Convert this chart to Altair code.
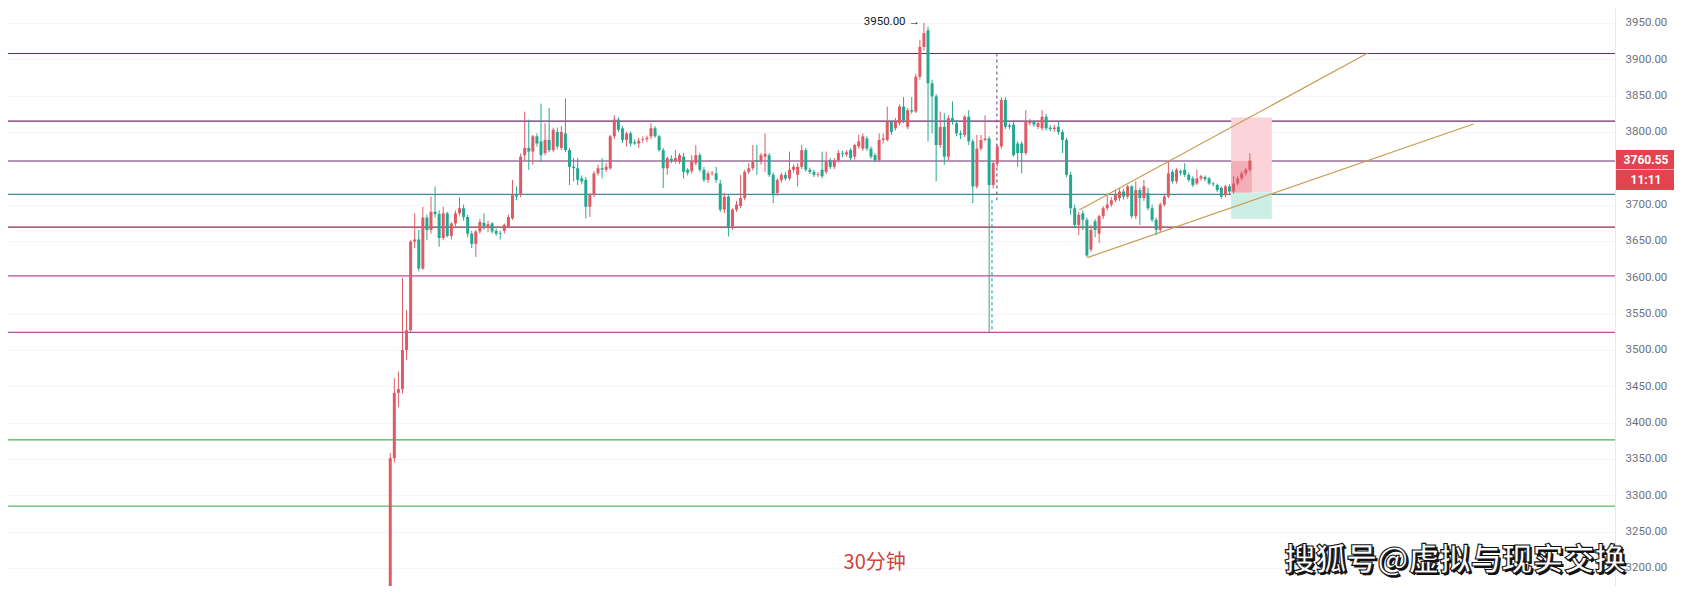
import altair as alt
import pandas as pd

# ---- candle data (30-minute bars) ----
opens = [
    3150, 3351, 3441, 3446, 3500, 3527, 3649, 3652, 3612, 3682,
    3665, 3690, 3687, 3654, 3688, 3657, 3674, 3688, 3695, 3683,
    3660, 3646, 3663, 3675, 3668, 3674, 3664, 3661, 3664, 3670,
    3681, 3713, 3713, 3768, 3778, 3773, 3794, 3787, 3771, 3789,
    3775, 3800, 3778, 3798, 3775, 3752, 3750, 3736, 3734, 3697,
    3713, 3743, 3750, 3748, 3750, 3794, 3817, 3805, 3789, 3798,
    3786, 3784, 3789, 3790, 3794, 3805, 3794, 3775, 3750, 3763,
    3760, 3759, 3766, 3748, 3746, 3757, 3768, 3748, 3734, 3743,
    3743, 3729, 3693, 3711, 3670, 3693, 3698, 3709, 3745, 3750,
    3761, 3759, 3766, 3768, 3741, 3716, 3734, 3741, 3736, 3748,
    3741, 3752, 3775, 3748, 3745, 3741, 3748, 3745, 3761, 3752,
    3761, 3771, 3769, 3775, 3766, 3780, 3777, 3791, 3777, 3768,
    3761, 3789, 3789, 3814, 3805, 3812, 3835, 3807, 3830, 3828,
    3876, 3917, 3940, 3867, 3849, 3782, 3807, 3766, 3819, 3812,
    3798, 3796, 3821, 3787, 3725, 3777, 3789, 3791, 3727, 3757,
    3780, 3844, 3809, 3810, 3784, 3784, 3771, 3812, 3814, 3807,
    3805, 3821, 3806, 3804, 3807, 3800, 3789, 3741, 3695, 3672,
    3688, 3679, 3638, 3677, 3660, 3684, 3695, 3700, 3706, 3709,
    3718, 3711, 3725, 3684, 3720, 3709, 3716, 3695, 3679, 3665,
    3700, 3711, 3745, 3732, 3746, 3748, 3741, 3736, 3729, 3736,
    3738, 3736, 3729, 3727, 3723, 3713, 3725, 3718, 3729, 3736,
    3743, 3748,
]
highs = [
    3358, 3461, 3470, 3599, 3555, 3651, 3688, 3665, 3697, 3686,
    3711, 3725, 3692, 3697, 3690, 3676, 3692, 3710, 3700, 3686,
    3664, 3665, 3680, 3688, 3678, 3676, 3667, 3664, 3674, 3686,
    3734, 3725, 3770, 3828, 3817, 3796, 3798, 3839, 3812, 3833,
    3806, 3806, 3808, 3846, 3778, 3764, 3764, 3740, 3738, 3716,
    3746, 3755, 3764, 3757, 3796, 3823, 3820, 3808, 3800, 3801,
    3790, 3792, 3794, 3795, 3812, 3808, 3796, 3778, 3766, 3768,
    3775, 3771, 3771, 3750, 3768, 3782, 3771, 3752, 3746, 3746,
    3752, 3734, 3716, 3713, 3695, 3705, 3741, 3748, 3757, 3782,
    3782, 3771, 3798, 3771, 3744, 3736, 3744, 3745, 3773, 3755,
    3757, 3782, 3778, 3751, 3748, 3745, 3773, 3773, 3764, 3764,
    3775, 3774, 3775, 3778, 3784, 3796, 3798, 3794, 3780, 3771,
    3798, 3798, 3835, 3816, 3819, 3838, 3848, 3833, 3848, 3880,
    3927, 3950, 3945, 3872, 3852, 3828, 3826, 3823, 3842, 3816,
    3802, 3823, 3830, 3790, 3796, 3796, 3823, 3794, 3760, 3783,
    3848, 3848, 3812, 3816, 3787, 3787, 3830, 3818, 3816, 3816,
    3830, 3825, 3809, 3810, 3814, 3803, 3792, 3745, 3700, 3690,
    3692, 3682, 3672, 3680, 3686, 3698, 3713, 3710, 3720, 3722,
    3722, 3727, 3727, 3732, 3723, 3734, 3723, 3700, 3682, 3703,
    3714, 3759, 3748, 3750, 3748, 3757, 3744, 3739, 3748, 3741,
    3740, 3738, 3731, 3729, 3725, 3727, 3728, 3739, 3739, 3746,
    3751, 3771,
]
lows = [
    3140, 3345, 3421, 3440, 3486, 3525, 3640, 3608, 3610, 3651,
    3660, 3682, 3642, 3651, 3655, 3652, 3670, 3685, 3678, 3655,
    3640, 3628, 3660, 3665, 3662, 3660, 3657, 3652, 3660, 3668,
    3679, 3706, 3710, 3761, 3748, 3755, 3780, 3759, 3768, 3772,
    3772, 3776, 3775, 3772, 3727, 3732, 3727, 3728, 3681, 3683,
    3710, 3740, 3736, 3745, 3748, 3790, 3800, 3785, 3780, 3780,
    3782, 3778, 3785, 3786, 3790, 3792, 3773, 3723, 3741, 3757,
    3757, 3756, 3736, 3740, 3743, 3754, 3745, 3731, 3730, 3740,
    3730, 3690, 3688, 3656, 3665, 3690, 3695, 3706, 3742, 3747,
    3741, 3755, 3745, 3738, 3702, 3712, 3730, 3733, 3733, 3744,
    3725, 3749, 3745, 3742, 3738, 3738, 3736, 3742, 3749, 3749,
    3758, 3765, 3766, 3760, 3762, 3777, 3774, 3774, 3763, 3758,
    3759, 3784, 3787, 3796, 3802, 3809, 3812, 3804, 3825, 3826,
    3872, 3912, 3787, 3798, 3732, 3778, 3755, 3761, 3810, 3794,
    3790, 3793, 3782, 3702, 3722, 3774, 3787, 3523, 3722, 3752,
    3777, 3804, 3804, 3766, 3752, 3743, 3768, 3809, 3807, 3804,
    3802, 3802, 3801, 3800, 3796, 3771, 3738, 3686, 3668, 3658,
    3665, 3628, 3635, 3655, 3647, 3680, 3692, 3697, 3703, 3705,
    3707, 3708, 3681, 3680, 3672, 3705, 3692, 3676, 3658, 3662,
    3697, 3709, 3729, 3729, 3740, 3738, 3731, 3724, 3727, 3733,
    3732, 3727, 3725, 3717, 3708, 3710, 3714, 3715, 3726, 3733,
    3740, 3745,
]
closes = [
    3351, 3441, 3446, 3500, 3527, 3649, 3652, 3612, 3682, 3665,
    3690, 3687, 3654, 3688, 3657, 3674, 3688, 3695, 3683, 3660,
    3646, 3663, 3676, 3670, 3673, 3663, 3660, 3660, 3672, 3683,
    3713, 3711, 3766, 3778, 3773, 3794, 3784, 3768, 3789, 3775,
    3803, 3780, 3800, 3775, 3752, 3750, 3734, 3732, 3697, 3713,
    3743, 3750, 3748, 3752, 3794, 3817, 3803, 3789, 3798, 3784,
    3784, 3788, 3790, 3792, 3805, 3794, 3775, 3750, 3764, 3760,
    3764, 3768, 3745, 3744, 3759, 3768, 3748, 3734, 3743, 3744,
    3734, 3693, 3711, 3670, 3693, 3700, 3709, 3745, 3750, 3759,
    3759, 3768, 3770, 3741, 3713, 3734, 3741, 3736, 3748, 3752,
    3752, 3775, 3748, 3745, 3741, 3742, 3739, 3759, 3752, 3761,
    3771, 3770, 3772, 3764, 3782, 3787, 3794, 3777, 3766, 3761,
    3789, 3791, 3814, 3800, 3814, 3835, 3816, 3830, 3828, 3876,
    3917, 3936, 3867, 3849, 3782, 3807, 3766, 3819, 3814, 3798,
    3796, 3821, 3787, 3725, 3777, 3789, 3791, 3727, 3757, 3780,
    3844, 3807, 3807, 3768, 3771, 3771, 3814, 3814, 3810, 3812,
    3821, 3805, 3804, 3806, 3800, 3789, 3741, 3695, 3672, 3686,
    3679, 3630, 3665, 3665, 3684, 3695, 3700, 3706, 3713, 3718,
    3711, 3725, 3684, 3720, 3709, 3725, 3695, 3679, 3665, 3700,
    3711, 3743, 3732, 3748, 3744, 3741, 3734, 3727, 3736, 3739,
    3735, 3729, 3728, 3720, 3711, 3725, 3718, 3729, 3736, 3743,
    3748, 3760.55,
]

# ---- horizontal levels ----
level_values = [3908, 3815, 3760, 3714, 3669, 3602, 3524, 3376, 3285]
level_colors = ["#6e2a6c", "#6e2a6c", "#6e2a6c", "#3f8a96", "#8a2c48",
                "#b14f9f", "#b14f9f", "#4caf50", "#5dbb61"]

# ---- channel (trend) lines: start index, start price, end index, end price ----
chan_x1 = [169.1, 171.1]
chan_y1 = [3692.6, 3627.0]
chan_x2 = [240.1, 265.9]
chan_y2 = [3909.0, 3811.0]

# ---- long-position box ----
box_x1 = [206.4, 206.4, 206.4]
box_x2 = [216.4, 216.4, 211.5]
box_y1 = [3716.5, 3680.0, 3716.5]
box_y2 = [3820.0, 3716.5, 3760.0]
box_colors = ["#fbd3d8", "#cdeee4", "#f3aeb8"]

# ---- dashed verticals ----
dash_x = [148.9, 147.7]
dash_y1 = [3908, 3706]
dash_y2 = [3706, 3527]
dash_colors = ["#7d5a88", "#2aa3bd"]

# price labels on the right axis (3750 sits under the price tag)
y_ticks = [3200, 3250, 3300, 3350, 3400, 3450, 3500, 3550, 3600, 3650,
           3700, 3800, 3850, 3900, 3950]
last_price = 3760.55
high_price = 3950.00
high_index = 131

RED = "#de5b66"
GREEN = "#25a892"

n = len(closes)
df = pd.DataFrame({"i": list(range(n)), "open": opens, "high": highs,
                   "low": lows, "close": closes})

xs = alt.Scale(domain=[-92.6, 299.4], nice=False, zero=False)
ys = alt.Scale(domain=[3175, 3970.6], nice=False, zero=False)
y_axis = alt.Axis(
    orient="right", values=y_ticks, format=".2f", title=None,
    labelFont="Roboto", labelFontSize=11.5, labelColor="#6f727c",
    tickSize=0, labelPadding=10, domainColor="#e9e9ec",
    grid=True, gridColor="#f4f5f8")


def Y(field):
    return alt.Y(field, type="quantitative", scale=ys, axis=y_axis)


def X(field):
    return alt.X(field, type="quantitative", scale=xs, axis=None)


candle_color = alt.condition("datum.close >= datum.open", alt.value(RED), alt.value(GREEN))

levels_df = pd.DataFrame({"v": level_values, "c": level_colors})
levels = alt.Chart(levels_df).mark_rule(strokeWidth=1.2).encode(
    y=Y("v"), color=alt.Color("c:N", scale=None))

box_df = pd.DataFrame({"x1": box_x1, "x2": box_x2, "y1": box_y1, "y2": box_y2, "c": box_colors})
boxes = alt.Chart(box_df).mark_rect().encode(
    x=X("x1"), x2="x2:Q", y=Y("y1"), y2="y2:Q", color=alt.Color("c:N", scale=None))

chan_df = pd.DataFrame({"x1": chan_x1, "y1": chan_y1, "x2": chan_x2, "y2": chan_y2})
channels = alt.Chart(chan_df).mark_rule(color="#c99a52", strokeWidth=1.2).encode(
    x=X("x1"), x2="x2:Q", y=Y("y1"), y2="y2:Q")

dash_df = pd.DataFrame({"x": dash_x, "y1": dash_y1, "y2": dash_y2, "c": dash_colors})
dashes = alt.Chart(dash_df).mark_rule(strokeDash=[3, 3], strokeWidth=1.2).encode(
    x=X("x"), y=Y("y1"), y2="y2:Q", color=alt.Color("c:N", scale=None))

wicks = alt.Chart(df).mark_rule(strokeWidth=1, clip=True).encode(
    x=X("i"), y=Y("low"), y2="high:Q", color=candle_color)
bodies = alt.Chart(df).mark_bar(size=3, clip=True).encode(
    x=X("i"), y=Y("open"), y2="close:Q", color=candle_color)

hi_df = pd.DataFrame({"i": [high_index], "p": [high_price], "t": [f"{high_price:.2f} →"]})
hi_text = alt.Chart(hi_df).mark_text(align="right", baseline="middle", dx=-4, dy=-1,
                                     font="Roboto", fontSize=11.5, color="#131722").encode(
    x=X("i"), y=Y("p"), text="t:N")

tag_df = pd.DataFrame({"y1": [3775, 3748], "y2": [3748.5, 3720], "t": [f"{last_price:.2f}", "11:11"],
                       "ym": [3761.5, 3734]})
tag_rect = alt.Chart(tag_df).mark_rect(color="#e3434f").encode(
    x=alt.value(1608), x2=alt.value(1666), y=Y("y1"), y2="y2:Q")
tag_text = alt.Chart(tag_df).mark_text(color="white", font="Roboto", fontSize=12,
                                       fontWeight="bold", align="center", baseline="middle").encode(
    x=alt.value(1638), y=Y("ym"), text="t:N")

label_df = pd.DataFrame({"i": [118.9], "p": [3206.7], "t": ["30分钟"]})
period_text = alt.Chart(label_df).mark_text(font="Noto Sans CJK SC", fontSize=20,
                                            color="#d2423f", align="center", baseline="middle").encode(
    x=X("i"), y=Y("p"), text="t:N")

wm_df = pd.DataFrame({"i": [261.3], "p": [3209.0], "t": ["搜狐号@虚拟与现实交换"]})
wm_shadow = alt.Chart(wm_df).mark_text(font="Noto Sans CJK SC", fontSize=31, fontWeight="bold",
                                       color="#111111", align="center", baseline="middle",
                                       dx=2, dy=2).encode(
    x=X("i"), y=Y("p"), text="t:N")
wm_text = alt.Chart(wm_df).mark_text(font="Noto Sans CJK SC", fontSize=31, fontWeight="bold",
                                     fill="white", stroke="#111111", strokeWidth=1.1,
                                     align="center", baseline="middle").encode(
    x=X("i"), y=Y("p"), text="t:N")

chart = alt.layer(
    levels, boxes, channels, dashes, wicks, bodies, hi_text,
    tag_rect, tag_text, period_text, wm_shadow, wm_text,
).properties(
    width=1607, height=578,
    autosize=alt.AutoSizeParams(type="none"),
    padding={"left": 0, "top": 0, "right": 59, "bottom": 0},
    background="white",
).configure_view(stroke=None)

chart.save("out.html", embed_options={"renderer": "svg", "actions": False})
